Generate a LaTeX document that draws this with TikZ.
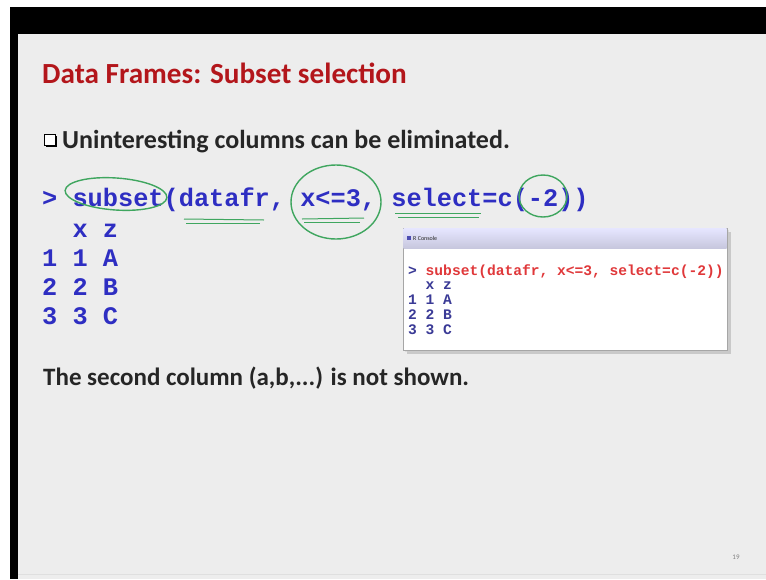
\documentclass[tikz,border=0pt]{standalone}
\usepackage{fontspec}
\setmainfont{Carlito}
\setmonofont{Liberation Mono}
\usetikzlibrary{shadows}
\definecolor{titlered}{HTML}{B3161B}
\definecolor{codeblue}{HTML}{2E2EC2}
\definecolor{penGreen}{HTML}{3FA65F}
\definecolor{slidebg}{HTML}{EDEDED}
\definecolor{conred}{HTML}{E0383A}
\definecolor{conblue}{HTML}{3A3A96}
\tikzset{
  txt/.style={anchor=base west, inner sep=0pt, text=black!85, font=\bfseries\fontsize{25.5}{30}\selectfont},
  code/.style={anchor=base west, inner sep=0pt, text=codeblue, font=\ttfamily\bfseries\fontsize{25.3}{29}\selectfont},
  ccode/.style={anchor=base west, inner sep=0pt, text=conblue, font=\ttfamily\bfseries\fontsize{14.6}{17}\selectfont},
  pen/.style={draw=penGreen, line width=1.4pt},
}
\begin{document}
\begin{tikzpicture}[x=1pt,y=-1pt]
\useasboundingbox (0,0) rectangle (766,579);
\fill[white] (0,0) rectangle (766,579);
\fill[black] (10,7) rectangle (766,579);
\fill[slidebg] (18,34) rectangle (766,579);
% title
\node[txt, text=titlered, font=\bfseries\fontsize{29.2}{34}\selectfont] (title) at (42,83) {Data Frames: Subset selection};
% bullet
\node[draw=black, line width=1.1pt, minimum size=11pt, inner sep=0pt, fill=white,
      drop shadow={shadow xshift=1.4pt, shadow yshift=-1.4pt, opacity=1, fill=black}] (box) at (50,140) {};
\node[txt, font=\bfseries\fontsize{26}{30}\selectfont] (bullet) at (62,148) {Uninteresting columns can be eliminated.};
% code
\node[code] (cmd) at (42,206) {> subset(datafr, x<=3, select=c(-2))};
\node[code] (r0) at (42,237) {\ \ x z};
\node[code] (r1) at (42,266) {1 1 A};
\node[code] (r2) at (42,295) {2 2 B};
\node[code] (r3) at (42,324) {3 3 C};
% annotations
\draw[pen] (116,194) ellipse[x radius=51, y radius=16, rotate=-4];
\draw[pen] (336,202) ellipse[x radius=45, y radius=37];
\draw[pen] (543,196) ellipse[x radius=24, y radius=21];
\coordinate (u1a) at (184,219); \coordinate (u1b) at (264,220);
\coordinate (u2a) at (186,223); \coordinate (u2b) at (260,223);
\draw[pen, line width=1pt] (u1a) -- (u1b);
\draw[pen, line width=1pt] (u2a) -- (u2b);
\coordinate (u3a) at (302,219); \coordinate (u3b) at (364,218);
\coordinate (u4a) at (304,222); \coordinate (u4b) at (360,222);
\draw[pen, line width=1pt] (u3a) -- (u3b);
\draw[pen, line width=1pt] (u4a) -- (u4b);
\coordinate (u5a) at (395,213); \coordinate (u5b) at (481,213);
\coordinate (u6a) at (398,217); \coordinate (u6b) at (479,217);
\draw[pen, line width=1pt] (u5a) -- (u5b);
\draw[pen, line width=1pt] (u6a) -- (u6b);
% console window
\fill[gray!60, opacity=0.6] (407,232) rectangle (731,354);
\fill[gray!40, opacity=0.5] (405,230) rectangle (729,352);
\draw[gray!70, fill=white] (403,228) rectangle (727,350);
\shade[top color=blue!10!white, bottom color=blue!25!gray!35] (403.5,228.5) rectangle (726.5,248);
\fill[blue!40!gray] (407,236) rectangle (411,240);
\node[anchor=base west, inner sep=0pt, text=gray!30!black, font=\fontsize{6}{7}\selectfont] (ctitle) at (413,240) {R Console};
\node[ccode] (ccmd) at (408,275) {>~{\color{conred}subset(datafr, x<=3, select=c(-2))}};
\node[ccode] (c0) at (408,289) {\ \ x z};
\node[ccode] (c1) at (408,304) {1 1 A};
\node[ccode] (c2) at (408,319) {2 2 B};
\node[ccode] (c3) at (408,334) {3 3 C};
% final line
\node[txt, font=\bfseries\fontsize{25}{30}\selectfont] (note) at (43,385) {The second column (a,b,...) is not shown.};
% page number
\node[anchor=base, inner sep=0pt, text=gray, font=\fontsize{7}{8}\selectfont] (pg) at (736,559) {19};
\draw[gray!25] (18,574) -- (766,574);
\end{tikzpicture}
\end{document}
